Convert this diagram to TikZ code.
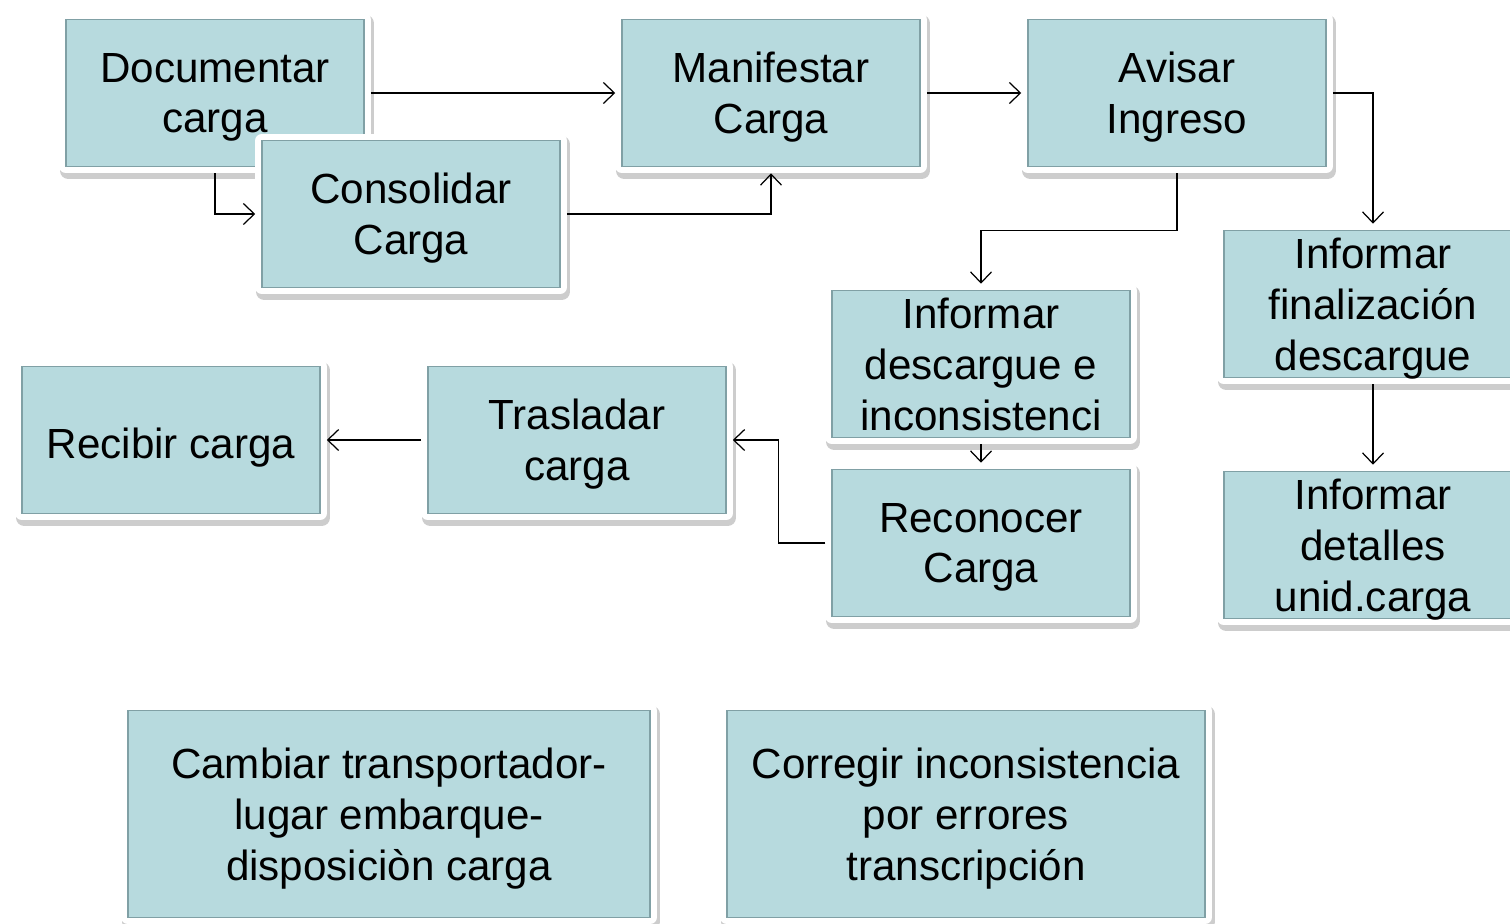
\documentclass[tikz,border=0pt]{standalone}
\usepackage{fontspec}
\setmainfont{Liberation Sans}
\usetikzlibrary{arrows.meta}
\definecolor{boxfill}{RGB}{183,218,222}
\definecolor{boxedge}{RGB}{128,160,165}
\definecolor{boxshade}{RGB}{205,205,205}
\begin{document}
\begin{tikzpicture}[x=0.02cm,y=-0.02cm,
    box/.style={rectangle, fill=boxfill, draw=boxedge, line width=0.9pt,
        inner sep=0pt, align=center, minimum width=5.96cm, minimum height=2.94cm,
        font=\fontsize{24}{29}\selectfont, text depth=0pt,
        execute at begin node={\rule{0pt}{21pt}},
        preaction={draw=boxshade, line width=0.34cm, line join=round,
            transform canvas={xshift=0.04cm,yshift=-0.08cm}},
        preaction={draw=white, line width=0.28cm, line join=round}},
    widebox/.style={box, minimum height=4.14cm},
    flow/.style={-{Straight Barb[length=0.22cm,width=0.42cm]}, line width=0.7pt,
        shorten <=0.12cm, shorten >=0.12cm}]
%    \draw (0,0) to[grid with coordinates] (1510,923);
    \useasboundingbox (0,0) rectangle (1510,923);
    \node[box](documentar) at (215,93)  {Documentar\\carga};
    \node[box](consolidar) at (411,214) {Consolidar\\Carga};
    \node[box](manifestar) at (771,93)  {Manifestar\\Carga};
    \node[box](avisar)     at (1177,93) {Avisar\\Ingreso};
    \node[box](finaliza)   at (1373,304){Informar\\finalización\\descargue};
    \node[box](detalles)   at (1373,545){Informar\\detalles\\unid.carga};
    \node[box](descargue)  at (981,364) {Informar\\descargue e\\inconsistenci};
    \node[box](reconocer)  at (981,543) {Reconocer\\Carga};
    \node[box](trasladar)  at (577,440) {Trasladar\\carga};
    \node[box](recibir)    at (171,440) {Recibir carga};
    \node[widebox, minimum width=10.44cm](cambiar) at (389,814)
        {Cambiar transportador-\\lugar embarque-\\disposiciòn carga};
    \node[widebox, minimum width=9.56cm](corregir) at (966,814)
        {Corregir inconsistencia\\por errores\\transcripción};

    \draw[flow] (documentar.east) -- (manifestar.west);
    \draw[flow] (documentar.south) |- (consolidar.west);
    \draw[flow] (consolidar.east) -| (manifestar.south);
    \draw[flow] (manifestar.east) -- (avisar.west);
    \draw[flow] (avisar.east) -| (finaliza.north);
    \draw[flow] (avisar.south) -- ++(0,63) -| (descargue.north);
    \draw[flow] (finaliza.south) -- (detalles.north);
    \draw[flow] (descargue.south) -- (reconocer.north);
    \draw[flow] (reconocer.west) -- ++(-53,0) |- (trasladar.east);
    \draw[flow] (trasladar.west) -- (recibir.east);
\end{tikzpicture}
\end{document}
